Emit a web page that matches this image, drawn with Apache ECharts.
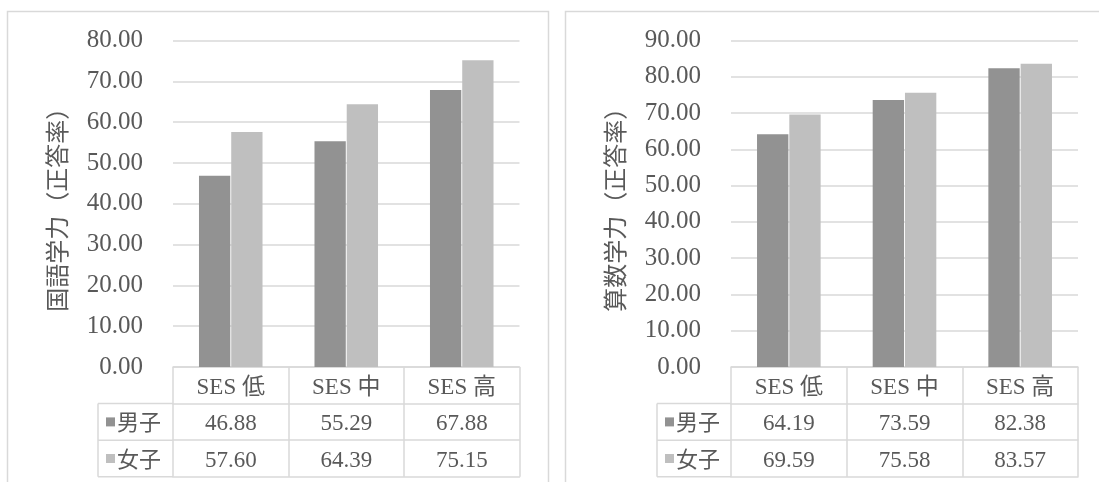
<!DOCTYPE html>
<html>
<head>
<meta charset="utf-8">
<script src="https://cdn.jsdelivr.net/npm/echarts@6/dist/echarts.min.js"></script>
<style>
  html, body { margin: 0; padding: 0; background: #fff; }
  #chart { width: 1099px; height: 482px; }
</style>
</head>
<body>
<div id="chart"></div>
<script>
// Categories and scores (正答率) by SES group
const categories = ['SES 低', 'SES 中', 'SES 高'];
const seriesNames = ['男子', '女子'];
const kokugoBoys = [46.88, 55.29, 67.88];
const kokugoGirls = [57.60, 64.39, 75.15];
const sansuBoys = [64.19, 73.59, 82.38];
const sansuGirls = [69.59, 75.58, 83.57];
const kokugoAxisMax = 80;
const sansuAxisMax = 90;
const axisTitles = ['国語学力（正答率）', '算数学力（正答率）'];

const W = 1099, H = 482;
const TEXT = '#595959';
const LINE = '#d9d9d9';
const COLORS = ['#929292', '#bfbfbf'];
const NUM_FONT = '"Liberation Serif", "Noto Sans CJK JP", serif';
const JP_FONT = '"Noto Sans CJK JP", "Liberation Serif", sans-serif';
const ROW = 36.6;          // data-table row height
const GRID_TOP = 40.5;
const GRID_BOTTOM = 115;   // space below the plot for the data table

const panels = [
  { left: 173, right: 519.5, legendLeft: 98, frameLeft: 7.5, frameRight: 548.5,
    boys: kokugoBoys, girls: kokugoGirls, max: kokugoAxisMax, title: axisTitles[0] },
  { left: 731, right: 1078, legendLeft: 657, frameLeft: 565.5, frameRight: 1110,
    boys: sansuBoys, girls: sansuGirls, max: sansuAxisMax, title: axisTitles[1] }
];

const grid = [], xAxis = [], yAxis = [], series = [], legend = [], graphic = [];

panels.forEach((p, gi) => {
  grid.push({ left: p.left, right: W - p.right, top: GRID_TOP, bottom: GRID_BOTTOM, containLabel: false });

  // table rows: category names, then one row per series
  const rows = [
    i => categories[i],
    i => p.boys[i].toFixed(2),
    i => p.girls[i].toFixed(2)
  ];
  rows.forEach((fmt, k) => {
    xAxis.push({
      type: 'category', gridIndex: gi, data: categories, position: 'bottom',
      offset: k * ROW,
      axisLine: { show: true, lineStyle: { color: LINE, width: 1.5 } },
      axisTick: { show: true, length: ROW, lineStyle: { color: LINE, width: 1.5 } },
      axisLabel: {
        formatter: (v, i) => fmt(i), margin: 9,
        fontFamily: NUM_FONT, fontSize: 23, color: TEXT
      },
      splitLine: { show: false }
    });
  });
  // closing bottom edge of the table
  xAxis.push({
    type: 'category', gridIndex: gi, data: categories, position: 'bottom',
    offset: 3 * ROW,
    axisLine: { show: true, lineStyle: { color: LINE, width: 1.5 } },
    axisTick: { show: false }, axisLabel: { show: false }
  });

  yAxis.push({
    type: 'value', gridIndex: gi, min: 0, max: p.max, interval: 10,
    axisLine: { show: false }, axisTick: { show: false },
    axisLabel: { formatter: v => v.toFixed(2), fontFamily: NUM_FONT, fontSize: 25, color: TEXT, margin: 30 },
    splitLine: { lineStyle: { color: LINE, width: 1.5 } },
    name: p.title, nameLocation: 'middle', nameRotate: 90, nameGap: 104,
    nameTextStyle: { fontFamily: JP_FONT, fontSize: 24, color: TEXT }
  });

  const xIdx = gi * 4;
  [p.boys, p.girls].forEach((vals, si) => {
    series.push({
      type: 'bar', name: seriesNames[si], xAxisIndex: xIdx, yAxisIndex: gi,
      data: vals, barGap: '3%', barCategoryGap: '45%',
      itemStyle: { color: COLORS[si] }, silent: true
    });
  });

  legend.push({
    data: seriesNames, orient: 'vertical', selectedMode: false, padding: 0,
    left: p.legendLeft + 8, top: H - GRID_BOTTOM + ROW + (ROW - 22) / 2,
    itemGap: ROW - 22, icon: 'rect', itemWidth: 9, itemHeight: 9,
    textStyle: { fontFamily: JP_FONT, fontSize: 22, color: TEXT, lineHeight: 22, padding: [0, 0, 0, -3] }
  });

  // legend-key cells of the data table
  const y0 = H - GRID_BOTTOM;
  const lineStyle = { stroke: LINE, lineWidth: 1.5 };
  [1, 2, 3].forEach(k => {
    graphic.push({ type: 'line', shape: { x1: p.legendLeft, y1: y0 + k * ROW, x2: p.left, y2: y0 + k * ROW }, style: lineStyle, silent: true });
  });
  graphic.push({ type: 'line', shape: { x1: p.legendLeft, y1: y0 + ROW, x2: p.legendLeft, y2: y0 + 3 * ROW }, style: lineStyle, silent: true });

  // panel frame
  graphic.push({ type: 'rect', shape: { x: p.frameLeft, y: 11.5, width: p.frameRight - p.frameLeft, height: H + 10 },
    style: { fill: 'none', stroke: LINE, lineWidth: 1.5 }, silent: true, z: -1 });
});

const chart = echarts.init(document.getElementById('chart'), null, { renderer: 'canvas' });
chart.setOption({
  animation: false,
  backgroundColor: '#fff',
  grid, xAxis, yAxis, series, legend, graphic
});
</script>
</body>
</html>
